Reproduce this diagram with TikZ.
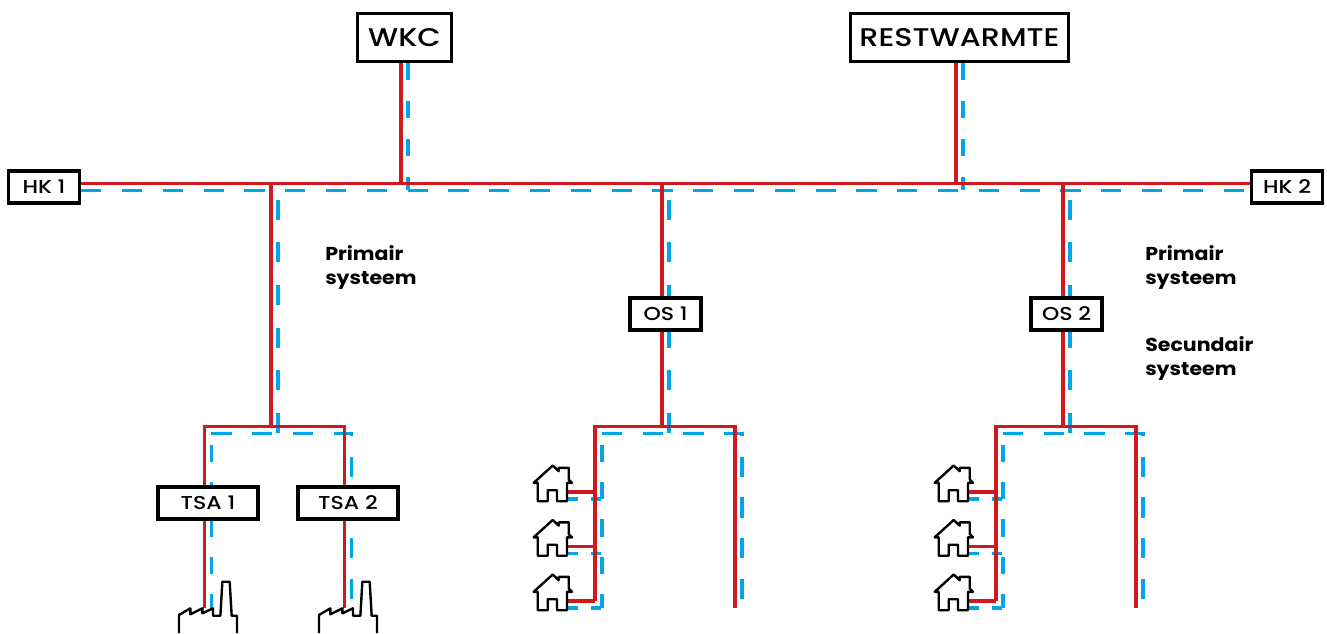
\documentclass[tikz,border=0pt]{standalone}
\usepackage{fontspec}
\setmainfont{Poppins}
\newfontfamily\boxfont[FakeStretch=1.18]{Poppins Medium}
\newfontfamily\tagfont[FakeStretch=1.1]{Poppins}
\usetikzlibrary{backgrounds}
\definecolor{WarmRed}{HTML}{D2181F}
\definecolor{ReturnBlue}{HTML}{00A6E6}
\def\vs{2.5pt}
\tikzset{
  box/.style={draw=black,fill=white,line width=2.4pt,inner sep=0pt,
              minimum width=53.3pt,minimum height=24pt,font=\boxfont\fontsize{14}{16}\selectfont},
  bigbox/.style={box,minimum height=35.5pt,font=\boxfont\fontsize{19.2}{22}\selectfont},
  tag/.style={anchor=north west,align=left,inner sep=0pt,
              font=\tagfont\fontsize{14}{18}\selectfont\bfseries},
  aanvoer/.style={draw=WarmRed,line width=2.6pt},
  retour/.style={draw=ReturnBlue,line width=2.6pt,dash pattern=on 15.2pt off 15.4pt},
  icon/.style={draw=black,line width=1.8pt,line join=round},
  huis/.pic={\draw[icon] (-30.3,-12.7) -- (-30.3,5.7) -- (-20.3,5.7) -- (-20.3,-5.3) -- (-11,-5.3)
      -- (-11,5.7) -- (-1,5.7) -- (-1,-12.7) -- (4,-12.7) -- (.7,-16) -- (.7,-27.7) -- (-9.3,-27.7)
      -- (-9.3,-24.3) -- (-15.3,-30) -- (-34.3,-12.7) -- cycle;},
  fabriek/.pic={\draw[icon] (-25.7,25) -- (-25.7,7) -- (-14.3,.3) -- (-14.3,6.3) -- (-2.3,.3) -- (-2.3,5.3)
      -- (8.3,.3) -- (8.3,7.7) -- (15.7,7.7) -- (17.7,-26.3) -- (25,-26.3) -- (27,7.7) -- (32.3,7.7) -- (32.3,25);}
}
\begin{document}
\begin{tikzpicture}[x=0.75pt,y=-0.75pt]
\useasboundingbox (0,0) rectangle (1327,633);
% bronnen en hoofdleiding
\node[bigbox,minimum width=71pt] (wkc) at (404.5,37.5) {WKC};
\node[bigbox,minimum width=164pt] (rest) at (959.5,37.5) {RESTWARMTE};
\node[box] (hk1) at (44,187) {HK 1};
\node[box] (hk2) at (1287,187) {HK 2};
% onderstations en afnemers
\node[box] (os1) at (665.5,314) {OS 1};
\node[box] (os2) at (1066.5,314) {OS 2};
\node[box,minimum width=75pt] (tsa1) at (208,503) {TSA 1};
\node[box,minimum width=75pt] (tsa2) at (348,503) {TSA 2};
\node[tag] (prim1) at (325,245) {Primair\\systeem};
\node[tag] (prim2) at (1145,245) {Primair\\systeem};
\node[tag] (sec2) at (1145,336) {Secundair\\systeem};
% aftakkingen
\coordinate (wkctop) at (404.5,187);
\coordinate (resttop) at (959.5,187);
\coordinate (tsatop) at (274.5,187);
\coordinate (tsasplit) at (274.5,430);
\coordinate (os1top) at (665.5,187);
\coordinate (os1split) at (665.5,430);
\coordinate (os2top) at (1066.5,187);
\coordinate (os2split) at (1066.5,430);
\coordinate (tsa1end) at (208,608);
\coordinate (tsa2end) at (348,608);
\coordinate (tsa1bend) at (208,430);
\coordinate (tsa2bend) at (348,430);
\path ([xshift=-\vs]tsa1end) pic {fabriek};
\path ([xshift=-\vs]tsa2end) pic {fabriek};
% woningen
\foreach \os/\dx in {1/0,2/401} {
  \coordinate (lb\os) at (598.5+\dx,430);
  \coordinate (rb\os) at (738.5+\dx,430);
  \coordinate (le\os) at (598.5+\dx,604.5);
  \coordinate (re\os) at (738.5+\dx,608);
  \foreach \h/\y in {1/495.5,2/550,3/604.5} {
    \path (568+\dx,\y) coordinate (huis\os\h) pic {huis};
    \coordinate (tak\os\h) at (598.5+\dx,\y);
  }
}
\begin{scope}[on background layer]
% retourleidingen eerst
\draw[retour] ([yshift=-\vs]hk1.east) -- ([yshift=-\vs]hk2.west);
\foreach \bron/\voet in {wkc/wkctop,rest/resttop}
  \draw[retour,dash pattern=on 12.8pt off 15.8pt] ([xshift=\vs]\bron.south) -- ([xshift=\vs,yshift=-\vs]\voet);
\foreach \bron in {os1,os2}
  \draw[retour,dash pattern=on 15pt off 17pt,dash phase=25pt] ([xshift=\vs,yshift=-\vs]\bron top) -- ([xshift=\vs]\bron.north) -- ([xshift=\vs]\bron.south) -- ([xshift=\vs,yshift=-\vs]\bron split);
\draw[retour,dash pattern=on 15pt off 17pt,dash phase=25pt] ([xshift=\vs,yshift=-\vs]tsatop) -- ([xshift=\vs,yshift=-\vs]tsasplit);
\draw[retour] ([xshift=\vs,yshift=-\vs]tsa1bend) -- ([xshift=\vs,yshift=-\vs]tsa2bend)
  -- ([xshift=\vs]tsa2.north) -- ([xshift=\vs]tsa2.south) -- ([xshift=\vs]tsa2end);
\draw[retour,dash pattern=on 12.8pt off 15pt,dash phase=18.8pt] ([xshift=\vs,yshift=-\vs]tsa1bend)
  -- ([xshift=\vs]tsa1.north) -- ([xshift=\vs]tsa1.south) -- ([xshift=\vs]tsa1end);
\foreach \os in {1,2} {
  \draw[retour] ([xshift=\vs,yshift=-\vs]lb\os) -- ([xshift=\vs,yshift=-\vs]rb\os) -- ([xshift=\vs]re\os);
  \draw[retour,dash pattern=on 12.8pt off 15pt,dash phase=18.8pt] ([xshift=\vs,yshift=-\vs]lb\os) -- ([xshift=\vs,yshift=-\vs]le\os);
  \foreach \h in {1,2,3}
    \draw[retour,dash pattern=on 7.5pt off 9.8pt] ([yshift=-\vs]huis\os\h) -- ([xshift=\vs,yshift=-\vs]tak\os\h);
}
% daarna de aanvoer
\draw[aanvoer] ([yshift=\vs]hk1.east) -- ([yshift=\vs]hk2.west);
\foreach \bron/\voet in {wkc/wkctop,rest/resttop}
  \draw[aanvoer] ([xshift=-\vs]\bron.south) -- ([xshift=-\vs,yshift=\vs]\voet);
\foreach \bron in {os1,os2}
  \draw[aanvoer] ([xshift=-\vs,yshift=\vs]\bron top) -- ([xshift=-\vs]\bron.north) -- ([xshift=-\vs]\bron.south) -- ([xshift=-\vs,yshift=\vs]\bron split);
\draw[aanvoer] ([xshift=-\vs,yshift=\vs]tsatop) -- ([xshift=-\vs,yshift=\vs]tsasplit);
\draw[aanvoer] ([xshift=-\vs]tsa1end) -- ([xshift=-\vs]tsa1.south) -- ([xshift=-\vs]tsa1.north) -- ([xshift=-\vs,yshift=\vs]tsa1bend)
  -- ([xshift=-\vs,yshift=\vs]tsa2bend) -- ([xshift=-\vs]tsa2.north) -- ([xshift=-\vs]tsa2.south) -- ([xshift=-\vs]tsa2end);
\foreach \os in {1,2} {
  \draw[aanvoer] ([xshift=-\vs,yshift=\vs]le\os) -- ([xshift=-\vs,yshift=\vs]lb\os) -- ([xshift=-\vs,yshift=\vs]rb\os) -- ([xshift=-\vs]re\os);
  \foreach \h in {1,2,3}
    \draw[aanvoer] ([yshift=\vs]huis\os\h) -- ([xshift=-\vs,yshift=\vs]tak\os\h);
}
\end{scope}
\end{tikzpicture}
\end{document}
